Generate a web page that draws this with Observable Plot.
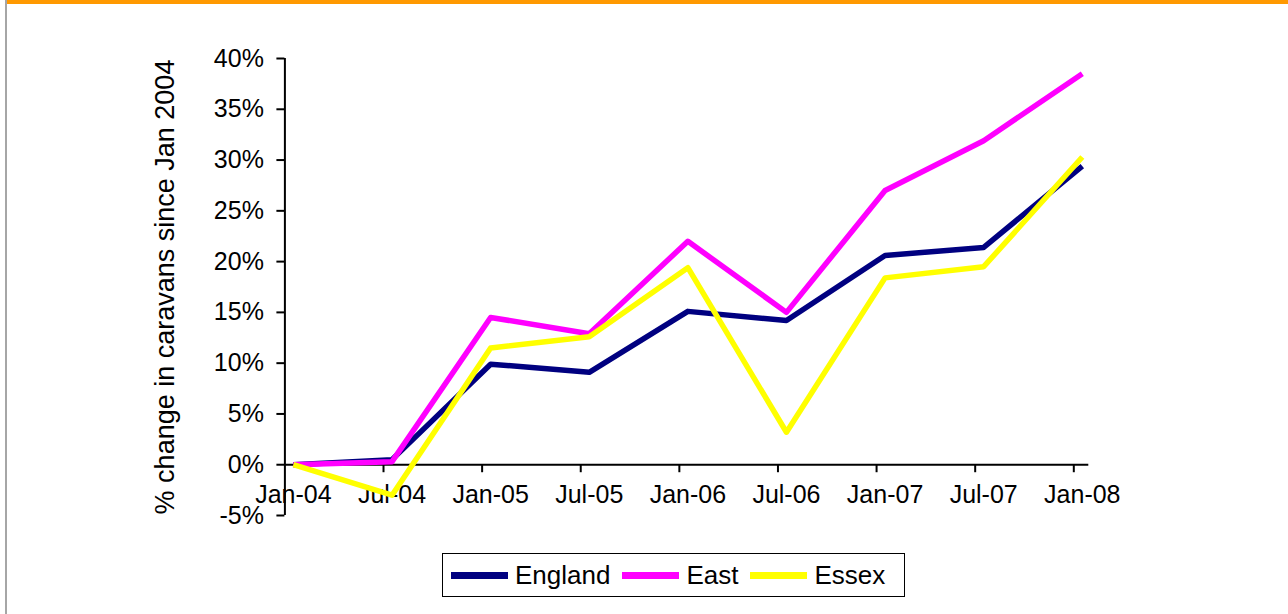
<!DOCTYPE html>
<html><head><meta charset="utf-8">
<script src="https://cdn.jsdelivr.net/npm/d3@7"></script>
<script src="https://cdn.jsdelivr.net/npm/@observablehq/plot@0.6"></script>
<style>
html,body{margin:0;padding:0;background:#fff;}
#wrap{position:relative;width:1288px;height:614px;overflow:hidden;font-family:"Liberation Sans",Arial,sans-serif;}
#lborder{position:absolute;left:5px;top:0;width:2px;height:614px;background:#a6a6a6;}
#tborder{position:absolute;left:7px;top:0;right:0;height:4px;background:#ff9900;}
#chart{position:absolute;left:0;top:0;}
#legend{position:absolute;left:442px;top:553px;width:463px;height:44px;box-sizing:border-box;border:1.5px solid #000;display:flex;align-items:center;padding-left:8px;font-size:26px;color:#000;}
.item{display:flex;align-items:center;margin-right:12px;}
.sw{width:57px;height:7px;margin-right:7px;}
</style></head><body>
<div id="wrap"><div id="chart"></div><div id="lborder"></div><div id="tborder"></div><div id="legend"></div></div>
<script>
const dates = ["Jan-04","Jul-04","Jan-05","Jul-05","Jan-06","Jul-06","Jan-07","Jul-07","Jan-08"];
const england = [0, 0.5, 9.9, 9.1, 15.1, 14.2, 20.6, 21.4, 29.4];
const east    = [0, 0.3, 14.5, 12.9, 22.0, 15.0, 27.0, 31.9, 38.5];
const essex   = [0, -3.0, 11.5, 12.6, 19.4, 3.2, 18.4, 19.5, 30.3];
const seriesNames = ["England", "East", "Essex"];
const seriesColors = ["#000080", "#ff00ff", "#ffff00"];
const yTicks = [-5, 0, 5, 10, 15, 20, 25, 30, 35, 40];
const yTitle = "% change in caravans since Jan 2004";

const seriesValues = [england, east, essex];
const rows = [];
seriesNames.forEach((s, k) => seriesValues[k].forEach((v, i) => rows.push({series: s, i, v})));
const idx = d3.range(dates.length);

const font = '"Liberation Sans", Arial, sans-serif';
const chart = Plot.plot({
  width: 1288, height: 545,
  marginLeft: 284.4, marginRight: 1288 - 1073.3, marginTop: 58, marginBottom: 30,
  x: {domain: [0, dates.length - 1], axis: null},
  y: {domain: [-5, 40], axis: null},
  color: {domain: seriesNames, range: seriesColors},
  style: {fontFamily: font, fontSize: "25px", color: "#000", background: "transparent", overflow: "visible"},
  marks: [
    Plot.axisY({ticks: yTicks, tickSize: 8, tickPadding: 13, tickFormat: d => d + "%", fontSize: 25, strokeWidth: 2, label: null}),
    Plot.axisY({ticks: [], fontSize: 27, label: yTitle, labelAnchor: "center", labelOffset: 130, labelArrow: "none"}),
    Plot.ruleX([0], {strokeWidth: 2}),
    Plot.ruleY([0], {strokeWidth: 2, insetRight: -15}),
    Plot.ruleX(idx.slice(1), {x: d => d, y1: 0, y2: 0, insetBottom: -8, strokeWidth: 2}),
    Plot.text(idx, {x: d => d, y: 0, text: d => dates[d], dx: 8.5, dy: 21, lineAnchor: "top", fontSize: 25, fill: "#000"}),
    Plot.line(rows, {x: "i", y: "v", z: "series", stroke: "series", strokeWidth: 5.5, dx: 8.5,
      strokeLinecap: "butt", strokeLinejoin: "round"})
  ]
});
document.getElementById("chart").appendChild(chart);

const legend = document.getElementById("legend");
seriesNames.forEach((s, k) => {
  const it = document.createElement("div");
  it.className = "item";
  const sw = document.createElement("div");
  sw.className = "sw";
  sw.style.background = seriesColors[k];
  const tx = document.createElement("span");
  tx.textContent = s;
  it.appendChild(sw); it.appendChild(tx);
  legend.appendChild(it);
});
</script>
</body></html>
